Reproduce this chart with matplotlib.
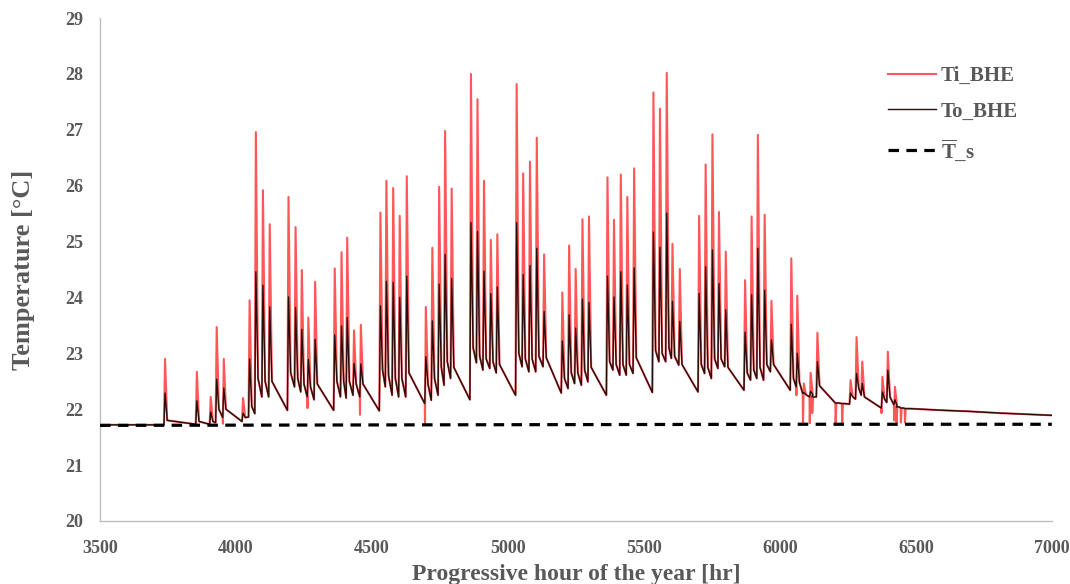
import numpy as np
import matplotlib
matplotlib.use("Agg")
import matplotlib.pyplot as plt

plt.rcParams['font.family'] = ['Liberation Serif', 'DejaVu Serif']
plt.rcParams['font.weight'] = 'bold'
plt.rcParams['mathtext.fontset'] = 'custom'
plt.rcParams['mathtext.rm'] = 'Liberation Serif:bold'

# one entry per pump cycle: start hour, value just before, Ti peak, To peak, value some hours after
hours = [3736, 3853, 3904, 3926, 3952, 4023, 4047, 4070, 4096, 4121,
         4190, 4216, 4239, 4263, 4288, 4360, 4385, 4406, 4431, 4456,
         4528, 4550, 4575, 4599, 4625, 4695, 4719, 4744, 4766, 4790,
         4861, 4885, 4909, 4934, 4958, 5029, 5053, 5078, 5103, 5130,
         5197, 5222, 5246, 5271, 5295, 5363, 5387, 5412, 5436, 5461,
         5532, 5556, 5581, 5602, 5629, 5700, 5724, 5749, 5773, 5798,
         5869, 5893, 5916, 5941, 5966, 6039, 6061, 6085, 6110, 6119,
         6135, 6205, 6229, 6257, 6279, 6300, 6374, 6394, 6420, 6429,
         6445, 6460]
trough = [21.72, 21.73, 21.73, 21.76, 21.85, 21.78, 21.86, 21.92, 22.22, 22.22,
          21.98, 22.40, 22.31, 22.22, 22.17, 21.98, 22.22, 22.20, 22.25, 22.22,
          21.97, 22.40, 22.25, 22.22, 22.22, 22.10, 22.16, 22.25, 22.43, 22.55,
          22.17, 22.83, 22.70, 22.73, 22.65, 22.25, 22.76, 22.67, 22.67, 22.76,
          22.29, 22.37, 22.46, 22.43, 22.49, 22.25, 22.70, 22.61, 22.61, 22.64,
          22.30, 22.85, 22.85, 22.91, 22.79, 22.31, 22.64, 22.55, 22.73, 22.76,
          22.34, 22.52, 22.55, 22.52, 22.67, 22.34, 22.40, 22.28, 22.22, 22.22,
          22.22, 22.11, 22.10, 22.09, 22.18, 22.25, 22.02, 22.12, 22.08, 22.04,
          22.02, 22.01]
ti_peak = [22.90, 22.67, 22.22, 23.47, 22.90, 22.20, 23.95, 26.96, 25.92, 25.31,
           25.80, 25.26, 24.49, 23.64, 24.28, 24.52, 24.81, 25.07, 23.41, 23.51,
           25.52, 26.09, 25.96, 25.46, 26.17, 23.83, 24.89, 25.98, 26.98, 25.95,
           28.00, 27.55, 26.09, 25.03, 25.13, 27.82, 26.22, 26.43, 26.86, 24.77,
           24.09, 24.93, 24.51, 25.40, 25.45, 26.15, 25.39, 26.20, 25.80, 26.31,
           27.67, 27.38, 28.02, 24.96, 24.51, 25.46, 26.38, 26.92, 25.53, 24.82,
           24.31, 25.45, 26.91, 25.48, 23.94, 24.70, 24.03, 22.46, 22.65, 22.22,
           23.37, 22.11, 22.10, 22.52, 23.29, 22.85, 22.58, 23.03, 22.40, 22.04,
           22.02, 22.01]
to_peak = [22.29, 22.15, 21.95, 22.54, 22.38, 21.93, 22.90, 24.46, 24.22, 23.83,
           24.01, 23.82, 23.43, 22.89, 23.25, 23.33, 23.49, 23.64, 22.82, 22.81,
           23.85, 24.29, 24.27, 24.00, 24.38, 22.94, 23.58, 24.24, 24.77, 24.34,
           25.34, 25.18, 24.47, 24.07, 24.19, 25.34, 24.41, 24.57, 24.88, 23.75,
           23.22, 23.69, 23.45, 23.97, 23.91, 24.38, 24.01, 24.46, 24.22, 24.53,
           25.17, 24.90, 25.51, 23.93, 23.57, 24.07, 24.55, 24.85, 24.25, 23.78,
           23.38, 24.05, 24.88, 24.13, 23.24, 23.52, 23.00, 22.30, 22.32, 22.22,
           22.85, 22.11, 22.10, 22.29, 22.64, 22.46, 22.31, 22.70, 22.17, 22.04,
           22.02, 22.01]
knee = [21.80, 21.78, 21.78, 22.00, 22.00, 21.85, 22.05, 22.55, 22.50, 22.50,
        22.65, 22.55, 22.45, 22.40, 22.45, 22.50, 22.50, 22.50, 22.45, 22.45,
        22.70, 22.60, 22.55, 22.55, 22.65, 22.45, 22.55, 22.75, 22.85, 22.75,
        23.10, 22.95, 22.90, 22.85, 22.80, 23.00, 22.90, 22.90, 22.95, 22.92,
        22.55, 22.65, 22.65, 22.70, 22.75, 22.85, 22.80, 22.80, 22.80, 22.92,
        23.05, 23.00, 23.10, 22.95, 22.80, 22.80, 22.75, 22.90, 22.90, 22.75,
        22.65, 22.70, 22.75, 22.80, 22.80, 22.55, 22.48, 22.26, 22.26, 22.22,
        22.42, 22.11, 22.10, 22.22, 22.38, 22.22, 22.18, 22.22, 22.06, 22.04,
        22.02, 22.01]
nan = float('nan')
ti_dip = [nan, nan, nan, nan, 21.74, nan, nan, nan, nan, nan,
          nan, nan, nan, 22.02, nan, nan, nan, nan, nan, 21.90,
          nan, nan, nan, nan, nan, 21.73, nan, nan, nan, nan,
          nan, nan, nan, nan, nan, nan, nan, nan, nan, nan,
          nan, nan, nan, nan, nan, nan, nan, nan, nan, nan,
          nan, nan, nan, nan, nan, nan, nan, nan, nan, nan,
          nan, nan, nan, nan, nan, nan, 22.25, 21.75, 21.75, 21.93,
          nan, 21.76, 21.75, nan, nan, nan, 21.93, nan, 21.80, 21.76,
          21.76, 21.76]

tail_hours = [6480, 6600, 6700, 6810, 7000]
tail_temp = [22.01, 21.98, 21.96, 21.93, 21.89]

ts_hours = [3500, 4700, 6050, 7000]
ts_temp = [21.71, 21.72, 21.73, 21.73]

# build the two BHE curves
to_x, to_y = [3500], [21.72]
ti_x, ti_y = [3500], [21.72]
for h, tr, pi, po, kn, dp in zip(hours, trough, ti_peak, to_peak, knee, ti_dip):
    to_x += [h - 1, h + 3, h + 11]
    to_y += [tr, po, kn]
    ti_x.append(h - 1)
    ti_y.append(tr)
    if not np.isnan(dp):
        ti_x.append(h)
        ti_y.append(dp)
    ti_x += [h + 3, h + 11]
    ti_y += [pi, kn]
to_x += tail_hours
to_y += tail_temp
ti_x += tail_hours
ti_y += tail_temp

grey = '#595959'
fig = plt.figure(figsize=(10.7, 5.84), dpi=100)
ax = fig.add_axes([0.0935, 0.108, 0.8895, 0.861])

ax.plot(ti_x, ti_y, color='#ff1f1f', lw=1.5, alpha=0.75, label='Ti_BHE', zorder=2)
ax.plot(to_x, to_y, color='#2a0d0d', lw=1.0, label='To_BHE', zorder=3)
ax.plot(ts_hours, ts_temp, color='black', lw=2.3, linestyle=(0, (3.3, 2.3)),
        label=r'$\overline{\mathrm{T}}$_s', zorder=4)

ax.set_xlim(3500, 7000)
ax.set_ylim(20, 29)
ax.set_xticks(range(3500, 7001, 500))
ax.set_yticks(range(20, 30))

for s in ['top', 'right']:
    ax.spines[s].set_visible(False)
for s in ['left', 'bottom']:
    ax.spines[s].set_color('#bfbfbf')
    ax.spines[s].set_linewidth(1.0)

ax.tick_params(length=0, labelsize=13, labelcolor=grey)
ax.tick_params(axis='x', pad=14)
ax.tick_params(axis='y', pad=12)
for lab in ax.get_xticklabels() + ax.get_yticklabels():
    lab.set_fontweight('bold')

ax.set_xlabel('Progressive hour of the year [hr]', fontsize=17, color=grey,
              fontweight='bold', labelpad=5)
ax.set_ylabel('Temperature [°C]', fontsize=19, color=grey,
              fontweight='bold', labelpad=22)

leg = ax.legend(loc='upper left', bbox_to_anchor=(0.808, 0.942), frameon=False,
                fontsize=15, labelspacing=0.75, handlelength=2.3,
                handletextpad=0.25)
for t in leg.get_texts():
    t.set_color(grey)

fig.savefig('out.png', dpi=100)
